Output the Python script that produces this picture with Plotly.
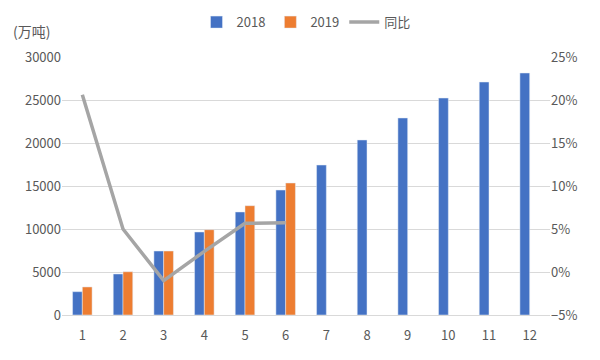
import plotly.graph_objects as go

months = ["1", "2", "3", "4", "5", "6", "7", "8", "9", "10", "11", "12"]
v2018 = [2710, 4770, 7440, 9650, 11980, 14530, 17440, 20350, 22910, 25230, 27090, 28140]
v2019 = [3260, 5030, 7440, 9920, 12710, 15350]
yoy = [20.6, 5.0, -1.0, 2.4, 5.66, 5.73]

FONT = "Noto Sans CJK SC, Microsoft YaHei, sans-serif"
fig = go.Figure()
fig.add_trace(go.Bar(x=months, y=v2018, name="2018", marker_color="#4472C4"))
fig.add_trace(go.Bar(x=months[:len(v2019)], y=v2019, name="2019", marker_color="#ED7D31"))
fig.add_trace(go.Scatter(x=months[:len(yoy)], y=yoy, name="同比", mode="lines",
                         line=dict(color="#A5A5A5", width=3.5), yaxis="y2"))

fig.update_layout(
    width=592, height=352,
    margin=dict(l=54, r=50, t=49, b=45, autoexpand=False),
    paper_bgcolor="white", plot_bgcolor="white",
    font=dict(family=FONT, size=13, color="#595959"),
    barmode="group", bargap=0.52, bargroupgap=0,
    showlegend=True,
    legend=dict(orientation="h", x=0.5, xanchor="center", y=1.135, yanchor="middle",
                font=dict(size=13, color="#595959"), itemwidth=30, tracegroupgap=0),
    xaxis=dict(type="category", showgrid=False, showline=True, linecolor="#D9D9D9",
               ticks="", tickfont=dict(size=13), ticklabelstandoff=8),
    yaxis=dict(range=[0, 30000], dtick=5000, tickformat="d", showgrid=True,
               gridcolor="#D9D9D9", zeroline=False, ticks="", tickfont=dict(size=13)),
    yaxis2=dict(range=[-5, 25], dtick=5, overlaying="y", side="right", showgrid=False,
                zeroline=False, ticksuffix="%", tickfont=dict(size=13)),
    annotations=[dict(text="(万吨)", xref="paper", yref="paper", x=-0.105, y=1.055,
                      xanchor="left", yanchor="bottom", showarrow=False,
                      font=dict(size=14, color="#595959"))],
)
fig.write_html("out.html")
